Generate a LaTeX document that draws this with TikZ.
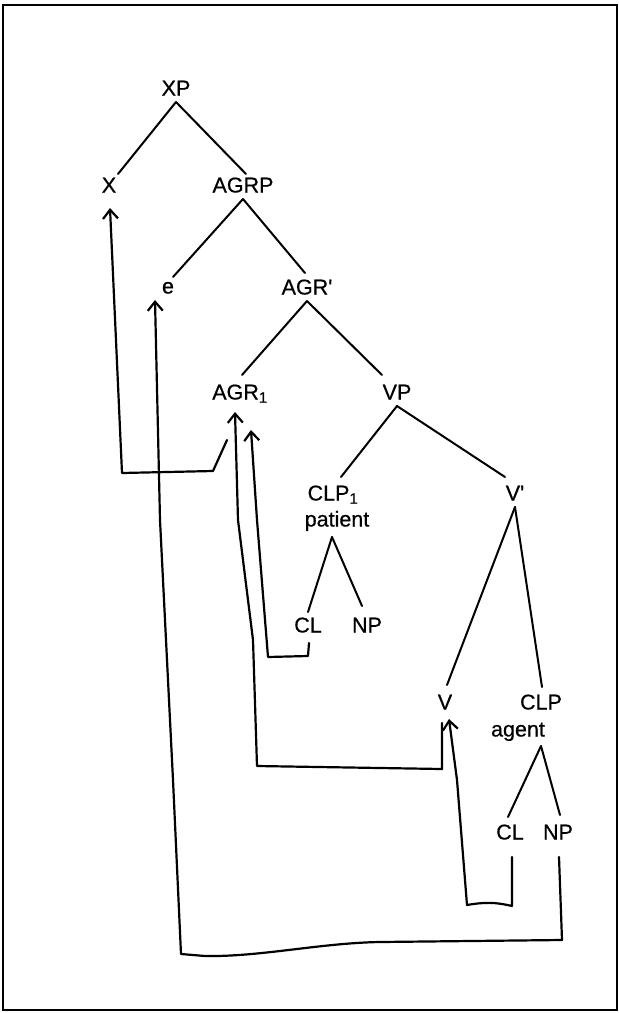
\documentclass[tikz,border=0pt]{standalone}
\usepackage{fontspec}
\setmainfont{Liberation Sans}
\newfontfamily\lblfont{Liberation Sans}[FakeBold=0.6]
\usetikzlibrary{arrows.meta,calc}
\begin{document}
\begin{tikzpicture}[x=1pt,y=-1pt,
  lbl/.style={inner sep=1pt, outer sep=5.5pt, text height=15pt, text depth=0pt, font=\lblfont\fontsize{21.5}{25}\selectfont},
  tree/.style={line width=2pt, line cap=round},
  mv/.style={line width=2.2pt, line join=round, line cap=round, -{Straight Barb[length=9pt,width=15pt,line width=2.2pt]}},
  frame/.style={line width=1.6pt}]
\useasboundingbox (0,0) rectangle (619,1013);
\draw[frame] (3,5) rectangle (617,1010);
% nodes
\node[lbl] (XP)   at (176,88)  {XP};
\node[lbl] (X)    at (109,185) {X};
\node[lbl] (AGRP) at (243,185) {AGRP};
\node[lbl] (e)    at (168,286) {e};
\node[lbl] (AGRb) at (307,287) {AGR\textquotesingle};
\node[lbl] (AGR1) at (240,392) {AGR\textsubscript{1}};
\node[lbl] (VP)   at (397,392) {VP};
\node[lbl] (CLP1) at (333,493) {CLP\textsubscript{1}};
\node[lbl] (pat)  at (337,519) {patient};
\node[lbl] (Vbar) at (515,493) {V\textquotesingle};
\node[lbl] (CLa)  at (308,625) {CL};
\node[lbl] (NPa)  at (367,625) {NP};
\node[lbl] (V)    at (445,702) {V};
\node[lbl] (CLP)  at (541,702) {CLP};
\node[lbl] (agt)  at (518,729) {agent};
\node[lbl] (CLb)  at (510,832) {CL};
\node[lbl] (NPb)  at (558,832) {NP};
% tree branches
\draw[tree] (XP.south) -- ([xshift=9pt,yshift=-3pt]X.north);
\draw[tree] (XP.south) -- ([xshift=3pt,yshift=-3pt]AGRP.north);
\draw[tree] (AGRP.south) -- ([xshift=5pt,yshift=-5pt]e.north);
\draw[tree] (AGRP.south) -- ([xshift=-2pt]AGRb.north);
\draw[tree] (AGRb.south) -- ([xshift=2pt,yshift=3pt]AGR1.north);
\draw[tree] (AGRb.south) -- ([xshift=-15pt,yshift=3pt]VP.north);
\draw[tree] (VP.south) -- ([xshift=8pt,yshift=2pt]CLP1.north);
\draw[tree] (VP.south) -- ([xshift=-10pt,yshift=2pt]Vbar.north);
\coordinate (patapex) at ([xshift=-5pt,yshift=-4pt]pat.south);
\draw[tree] (patapex) -- ([yshift=-1pt]CLa.north);
\draw[tree] (patapex) -- ([xshift=-5pt,yshift=5pt]NPa.north);
\draw[tree] (Vbar.south) -- ([xshift=2pt,yshift=3pt]V.north);
\draw[tree] (Vbar.south) -- ([xshift=1pt,yshift=1pt]CLP.north);
\coordinate (agapex) at ([yshift=-3pt]agt.south -| CLP.south);
\draw[tree] (agapex) -- ([xshift=-2pt,yshift=1pt]CLb.north);
\draw[tree] (agapex) -- ([xshift=2pt,yshift=3pt]NPb.north);
% movement arrows
\coordinate (a0) at (227,440);
\draw[mv] (a0) -- (213,471) -- (122,473) -- ([xshift=1pt,yshift=-9pt]X.south);
\coordinate (b0) at (559,857);
\draw[mv] (b0) -- (562,940) -- (380,942) .. controls (320,943) and (260,957) .. (205,956) -- (181,954) -- (173,780) -- (160,520) -- ([xshift=-13pt]e.south);
\coordinate (c0) at (512,857);
\draw[mv] (c0) -- (512,906) .. controls (495,902) and (485,902) .. (467,905) -- (457,780) -- ([xshift=4pt,yshift=-3pt]V.south);
\coordinate (d0) at (442,723);
\draw[mv] (d0) -- (442,769) -- (257,766) -- (253,640) -- (238,520) -- ([xshift=-5pt,yshift=-6pt]AGR1.south);
\coordinate (e0) at (309,643);
\draw[mv] (e0) -- (308,656) -- (268,657) -- (257,520) -- ([xshift=11pt,yshift=-24pt]AGR1.south);
\end{tikzpicture}
\end{document}
